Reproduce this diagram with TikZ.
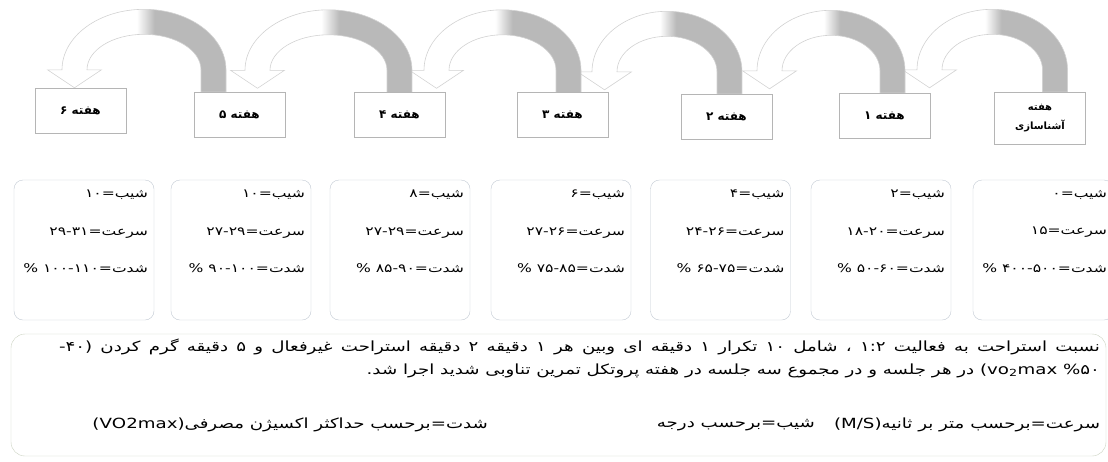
\documentclass[tikz,border=0pt]{standalone}
\usepackage{fontspec}
\usetikzlibrary{calc,positioning,backgrounds}
\newfontfamily\farsi[Script=Arabic]{DejaVu Sans}
\newfontfamily\farsiwide[Script=Arabic, FakeStretch=1.3]{DejaVu Sans}
\TeXXeTstate=1
\newcommand{\fa}[1]{\beginR #1\endR}
\definecolor{BoxLine}{HTML}{C2C9D3}
\definecolor{NoteLine}{HTML}{CBD2C2}
\definecolor{WeekLine}{HTML}{B5B5B5}
\pgfdeclarehorizontalshading{LoopShade}{100bp}{color(0bp)=(white); color(50bp)=(white); color(55bp)=(gray!55); color(100bp)=(gray!55)}

\begin{document}
\begin{tikzpicture}[
x=1pt, y=1pt,
WeekBox/.style={draw=WeekLine, fill=white, inner sep=0pt, minimum width=91pt, minimum height=45pt, font=\farsi\bfseries\fontsize{12}{14}\selectfont},
DataBox/.style={draw=BoxLine, rounded corners=9pt, minimum width=140pt, minimum height=140pt},
DataText/.style={anchor=north east, align=right, inner sep=0pt, font=\farsiwide\fontsize{12}{37.5}\selectfont},
NoteText/.style={anchor=east, inner sep=0pt, font=\farsiwide\fontsize{14}{16}\selectfont},
LoopArrow/.style={shading=LoopShade, draw=gray!35, line width=0.6pt}
]

\useasboundingbox (0,0) rectangle (1108,-461);

% week boxes, right to left
\node[WeekBox, minimum height=52pt, font=\farsi\bfseries\fontsize{10}{19}\selectfont, align=center] (W0) at (1040,-118) {\fa{هفته}\\\fa{آشناسازی}};
\node[WeekBox] (W1) at (884.5,-115.5) {\fa{هفته ۱}};
\node[WeekBox] (W2) at (726.5,-116.5) {\fa{هفته ۲}};
\node[WeekBox] (W3) at (562.5,-115) {\fa{هفته ۳}};
\node[WeekBox] (W4) at (399.5,-115) {\fa{هفته ۴}};
\node[WeekBox] (W5) at (239.5,-114.5) {\fa{هفته ۵}};
\node[WeekBox] (W6) at (80.5,-111) {\fa{هفته ۶}};

% curved arrows from one week to the next
\begin{scope}[on background layer]
\foreach \src/\dst/\sx/\tx in {W0/W1/15/45, W1/W2/8/43, W2/W3/3/42, W3/W4/6/37, W4/W5/0/18, W5/W6/-26/-6}
  \shadedraw[LoopArrow]
    let \p1=($(\src.north)+(\sx,0)$), \p2=($(\dst.north)+(\tx,0)$),
        \n1={(\x1-\x2)/2}, \n2={\y1+22pt} in
    (\x1+12.5pt,\y1) -- (\x1+12.5pt,\n2)
    arc[start angle=0, end angle=180, x radius=\n1+12.5pt, y radius=60.5pt]
    -- (\x2-27pt,\n2) -- (\x2,\n2-18pt) -- (\x2+27pt,\n2) -- (\x2+12.5pt,\n2)
    arc[start angle=180, end angle=0, x radius=\n1-12.5pt, y radius=35.5pt]
    -- (\x1-12.5pt,\y1) -- cycle;
\end{scope}

% data boxes (the last one runs off the right edge)
\node[DataBox] (D0) at (1043,-250) {};
\node[DataBox] (D1) at (881,-250) {};
\node[DataBox] (D2) at (720.5,-250) {};
\node[DataBox] (D3) at (561,-250) {};
\node[DataBox] (D4) at (400,-250) {};
\node[DataBox] (D5) at (241,-250) {};
\node[DataBox] (D6) at (84,-250) {};

\node[DataText] (T0) at ($(D0.north east)+(-6,-10)$) {\fa{شیب=۰}\\\fa{سرعت=۱۵}\\\fa{شدت=۵۰۰-۴۰۰ \%}};
\node[DataText] (T1) at ($(D1.north east)+(-6,-10)$) {\fa{شیب=۲}\\\fa{سرعت=۲۰-۱۸}\\\fa{شدت=۶۰-۵۰ \%}};
\node[DataText] (T2) at ($(D2.north east)+(-6,-10)$) {\fa{شیب=۴}\\\fa{سرعت=۲۶-۲۴}\\\fa{شدت=۷۵-۶۵ \%}};
\node[DataText] (T3) at ($(D3.north east)+(-6,-10)$) {\fa{شیب=۶}\\\fa{سرعت=۲۶-۲۷}\\\fa{شدت=۸۵-۷۵ \%}};
\node[DataText] (T4) at ($(D4.north east)+(-6,-10)$) {\fa{شیب=۸}\\\fa{سرعت=۲۹-۲۷}\\\fa{شدت=۹۰-۸۵ \%}};
\node[DataText] (T5) at ($(D5.north east)+(-6,-10)$) {\fa{شیب=۱۰}\\\fa{سرعت=۲۹-۲۷}\\\fa{شدت=۱۰۰-۹۰ \%}};
\node[DataText] (T6) at ($(D6.north east)+(-6,-10)$) {\fa{شیب=۱۰}\\\fa{سرعت=۳۱-۲۹}\\\fa{شدت=۱۱۰-۱۰۰ \%}};

% protocol note
\node[draw=NoteLine, rounded corners=14pt, minimum width=1095pt, minimum height=122pt] (Note) at (558.5,-395) {};
\node[NoteText] (N1) at ($(Note.north east)+(-6,-13)$) {\hbox to 1041pt{\beginR نسبت استراحت به فعالیت ۱:۲ ، شامل ۱۰ تکرار ۱ دقیقه ای وبین هر ۱ دقیقه ۲ دقیقه استراحت غیرفعال و ۵ دقیقه گرم کردن (۴۰-\endR}};
\node[NoteText] (N2) at ($(Note.north east)+(-6,-37)$) {\fa{\beginL(vo\textsubscript{2}max \%۵۰\endL{} در هر جلسه و در مجموع سه جلسه در هفته پروتکل تمرین تناوبی شدید اجرا شد.}};
\node[NoteText] (N3) at ($(Note.north east)+(-6,-91)$) {\fa{سرعت=برحسب متر بر ثانیه(M/S)}};
\node[NoteText] (N4) at ($(Note.north east)+(-291,-91)$) {\fa{شیب=برحسب درجه}};
\node[NoteText] (N5) at ($(Note.north east)+(-618,-91)$) {\fa{شدت=برحسب حداکثر اکسیژن مصرفی(VO2max)}};

\end{tikzpicture}
\end{document}
